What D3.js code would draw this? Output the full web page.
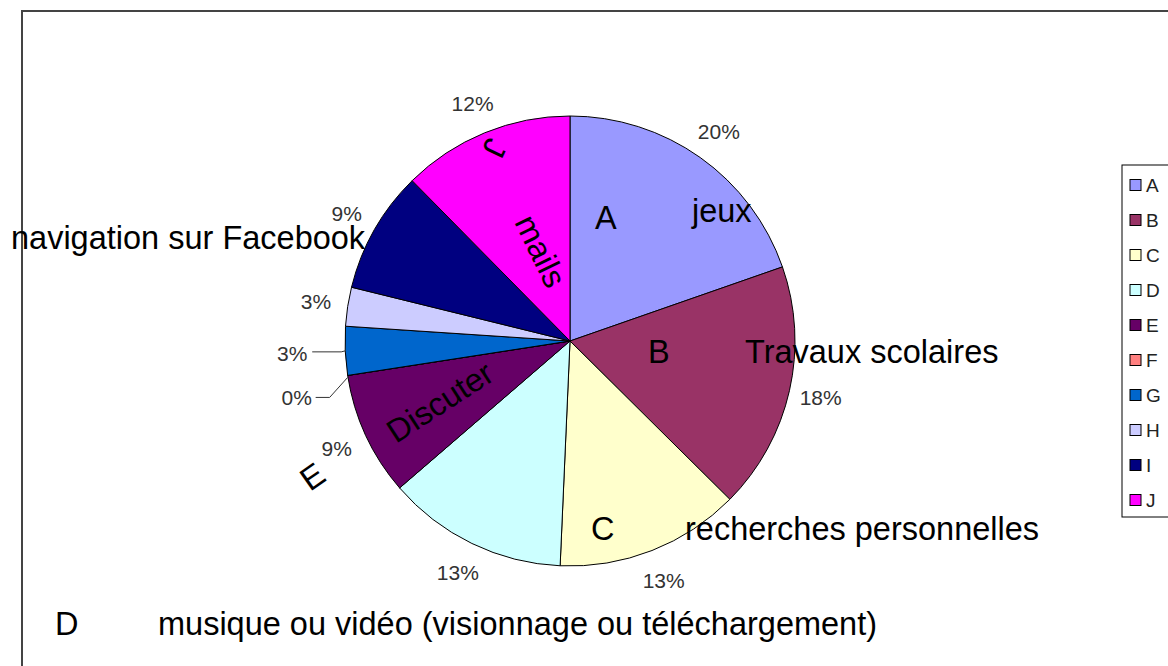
<!DOCTYPE html>
<html lang="fr">
<head>
<meta charset="utf-8">
<title>Pie chart</title>
<script src="https://d3js.org/d3.v7.min.js"></script>
<style>
  body { margin: 0; background: #fff; }
  svg text { font-family: "Liberation Sans", Arial, sans-serif; }
  .pct { font-size: 21px; fill: #333; }
  .note { font-size: 32.5px; fill: #000; }
  .leg { font-size: 19px; fill: #222; }
</style>
</head>
<body>
<svg id="chart" width="1168" height="666"></svg>
<script>
// categories and values (percent of answers)
var categories = ["A", "B", "C", "D", "E", "F", "G", "H", "I", "J"];
var values = [19.7, 17.8, 13.3, 13.0, 8.9, 0, 3.5, 2.8, 8.8, 12.4];
var colors = ["#9999FF", "#993366", "#FFFFCC", "#CCFFFF", "#660066",
              "#FF8080", "#0066CC", "#CCCCFF", "#000080", "#FF00FF"];

// free text boxes placed over the chart
var noteTexts = ["A", "jeux", "B", "Travaux scolaires", "C", "recherches personnelles",
                 "D", "musique ou vidéo (visionnage ou téléchargement)",
                 "Discuter", "E", "navigation sur Facebook", "mails", "J"];

var svg = d3.select("#chart");

// outer chart frame
svg.append("rect")
  .attr("x", 22).attr("y", 11)
  .attr("width", 1200).attr("height", 700)
  .attr("fill", "none")
  .attr("stroke", "#444")
  .attr("stroke-width", 2);

var cx = 570, cy = 341, R = 225;
var total = d3.sum(values);

var pie = d3.pie().sort(null).value(function(d) { return d; });
var arcs = pie(values);
var arc = d3.arc().innerRadius(0).outerRadius(R);
var labelArc = d3.arc().innerRadius(257).outerRadius(257);
var edgeArc = d3.arc().innerRadius(R).outerRadius(R);

var g = svg.append("g").attr("transform", "translate(" + cx + "," + cy + ")");

g.selectAll("path.slice")
  .data(arcs)
  .enter()
  .append("path")
  .attr("class", "slice")
  .attr("d", arc)
  .attr("fill", function(d, i) { return colors[i]; })
  .attr("stroke", "#000")
  .attr("stroke-width", 1);

// percentage labels; the two thin slices get leader lines
g.selectAll("text.pct")
  .data(arcs)
  .enter()
  .append("text")
  .attr("class", "pct")
  .attr("text-anchor", "middle")
  .attr("dy", "0.35em")
  .attr("transform", function(d, i) {
    var p = labelArc.centroid(d);
    var e = edgeArc.centroid(d);
    if (i === 5) p = [e[0] - 51, e[1] + 22];
    if (i === 6) p = [e[0] - 53, e[1] + 3];
    return "translate(" + p[0] + "," + p[1] + ")";
  })
  .text(function(d) { return Math.round(d.value / total * 100) + "%"; });

arcs.forEach(function(d, i) {
  var e = edgeArc.centroid(d);
  var pts = null;
  if (i === 5) pts = [[e[0], e[1] + 2], [e[0] - 18, e[1] + 22], [e[0] - 32, e[1] + 22]];
  if (i === 6) pts = [[e[0], e[1]], [e[0] - 4, e[1] + 1], [e[0] - 33, e[1] + 1]];
  if (pts) {
    g.append("path")
      .attr("d", d3.line()(pts))
      .attr("fill", "none")
      .attr("stroke", "#333")
      .attr("stroke-width", 1);
  }
});

// annotation positions (x, y, rotation)
var notePos = [
  [595, 229, 0], [692, 222, 0], [648, 363, 0], [745, 363, 0],
  [591, 540, 0], [685, 540, 0], [55, 635, 0], [158, 635, 0],
  [396, 444, -33], [310, 492, -35], [11, 249, 0], [514, 222, 64], [488, 136, 115]
];

svg.selectAll("text.note")
  .data(noteTexts)
  .enter()
  .append("text")
  .attr("class", "note")
  .attr("transform", function(d, i) {
    var p = notePos[i];
    return "translate(" + p[0] + "," + p[1] + ") rotate(" + p[2] + ")";
  })
  .text(function(d) { return d; });

// legend
var legend = svg.append("g").attr("transform", "translate(1122,165)");
legend.append("rect")
  .attr("width", 80).attr("height", 352)
  .attr("fill", "#fff")
  .attr("stroke", "#000")
  .attr("stroke-width", 1);

var ly = d3.scalePoint().domain(categories).range([20, 335]);

var items = legend.selectAll("g.item")
  .data(categories)
  .enter()
  .append("g")
  .attr("class", "item")
  .attr("transform", function(d) { return "translate(0," + ly(d) + ")"; });

items.append("rect")
  .attr("x", 8).attr("y", -5.5)
  .attr("width", 11).attr("height", 11)
  .attr("fill", function(d, i) { return colors[i]; })
  .attr("stroke", "#000")
  .attr("stroke-width", 1);

items.append("text")
  .attr("class", "leg")
  .attr("x", 24)
  .attr("dy", "0.36em")
  .text(function(d) { return d; });
</script>
</body>
</html>
